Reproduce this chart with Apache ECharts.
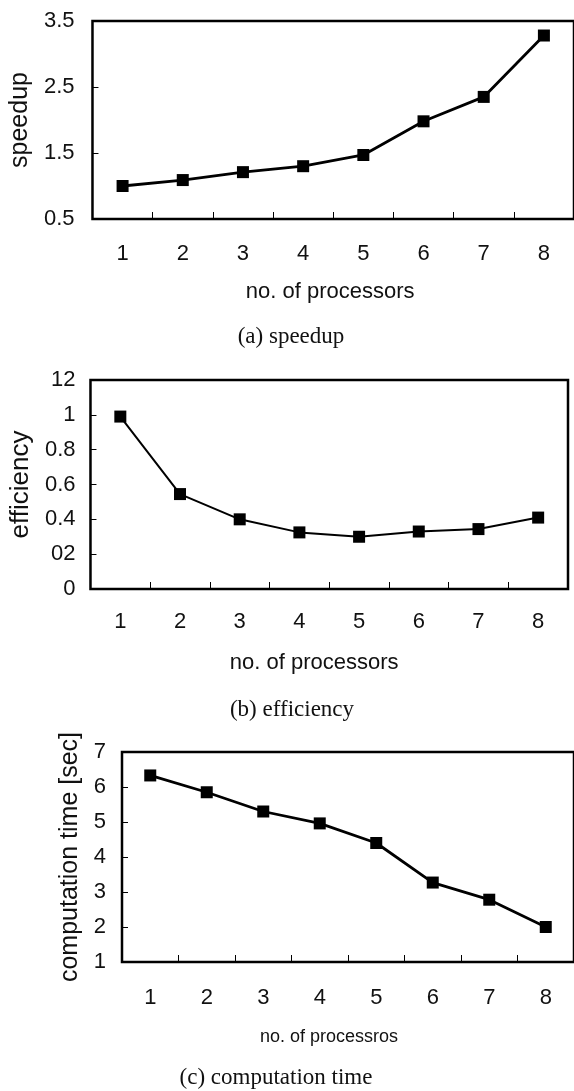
<!DOCTYPE html>
<html>
<head>
<meta charset="utf-8">
<script src="https://cdn.jsdelivr.net/npm/echarts@6/dist/echarts.min.js"></script>
<style>
html, body { margin: 0; padding: 0; background: #fff; }
#main { width: 574px; height: 1091px; }
</style>
</head>
<body>
<div id="main"></div>
<script>
// number of processors (shared x categories)
var processors = ['1', '2', '3', '4', '5', '6', '7', '8'];

// (a) speedup
var speedup = [1.0, 1.09, 1.21, 1.30, 1.47, 1.98, 2.35, 3.28];
// (b) efficiency
var efficiency = [0.99, 0.545, 0.40, 0.325, 0.30, 0.33, 0.344, 0.41];
// (c) computation time [sec]
var compTime = [6.33, 5.85, 5.30, 4.96, 4.40, 3.27, 2.78, 2.0];

// tick labels of the efficiency axis, as printed in the figure
var effTickLabels = ['0', '02', '0.4', '0.6', '0.8', '1', '12'];

var SANS = '"Liberation Sans", Arial, sans-serif';
var SERIF = '"Liberation Serif", "Times New Roman", serif';

function xAxisOf(idx, nameText, nameGap, padRight, nameSize, labelMargin) {
	return {
		gridIndex : idx,
		type : 'category',
		data : processors,
		boundaryGap : true,
		name : nameText,
		nameLocation : 'middle',
		nameGap : nameGap,
		nameTextStyle : {
			color : '#111',
			fontFamily : SANS,
			fontSize : nameSize,
			padding : [0, padRight, 0, 0]
		},
		axisLine : { show : false },
		axisTick : {
			show : true,
			inside : true,
			length : 7,
			lineStyle : { color : '#000', width : 1 }
		},
		axisLabel : {
			color : '#111',
			fontFamily : SANS,
			fontSize : 22,
			margin : labelMargin
		},
		splitLine : { show : false }
	};
}

function yAxisOf(idx, nameText, nameGap, nameSize, min, max, interval, labelMargin, fmt) {
	return {
		gridIndex : idx,
		type : 'value',
		min : min,
		max : max,
		interval : interval,
		name : nameText,
		nameLocation : 'middle',
		nameGap : nameGap,
		nameTextStyle : {
			color : '#111',
			fontFamily : SANS,
			fontSize : nameSize
		},
		axisLine : { show : false },
		axisTick : {
			show : true,
			inside : true,
			length : 6,
			lineStyle : { color : '#000', width : 1 }
		},
		axisLabel : {
			color : '#111',
			fontFamily : SANS,
			fontSize : 22,
			margin : labelMargin,
			formatter : fmt
		},
		splitLine : { show : false }
	};
}

function lineOf(idx, values, width) {
	return {
		type : 'line',
		xAxisIndex : idx,
		yAxisIndex : idx,
		data : values,
		symbol : 'rect',
		symbolSize : 12,
		lineStyle : { color : '#000', width : width },
		itemStyle : { color : '#000' },
		animation : false
	};
}

var gridStyle = { show : true, borderColor : '#000', borderWidth : 2.5, backgroundColor : 'transparent' };

var chart = echarts.init(document.getElementById('main'), null, { renderer : 'canvas' });

chart.setOption({
	backgroundColor : '#fff',
	animation : false,
	grid : [
		Object.assign({ left : 91, top : 21, width : 490, height : 198 }, gridStyle),
		Object.assign({ left : 88, top : 380, width : 480, height : 209 }, gridStyle),
		Object.assign({ left : 122, top : 752, width : 452, height : 210 }, gridStyle)
	],
	xAxis : [
		xAxisOf(0, 'no. of processors', 62, 6, 22, 24),
		xAxisOf(1, 'no. of processors', 63, 30, 22, 22),
		xAxisOf(2, 'no. of processros', 66, 38, 18, 25)
	],
	yAxis : [
		yAxisOf(0, 'speedup', 51, 25, 0.5, 3.5, 1, 18, null),
		yAxisOf(1, 'efficiency', 48, 26, 0, 1.2, 0.2, 15, function (v) {
			return effTickLabels[Math.round(v / 0.2)];
		}),
		yAxisOf(2, 'computation time [sec]', 34, 25, 1, 7, 1, 16, null)
	],
	series : [
		lineOf(0, speedup, 2.8),
		lineOf(1, efficiency, 2),
		lineOf(2, compTime, 2.8)
	],
	graphic : [
		{ type : 'text', x : 291, y : 337, style : { text : '(a) speedup', fill : '#111', font : '23px ' + SERIF, textAlign : 'center', textVerticalAlign : 'middle' } },
		{ type : 'text', x : 292, y : 710, style : { text : '(b) efficiency', fill : '#111', font : '23px ' + SERIF, textAlign : 'center', textVerticalAlign : 'middle' } },
		{ type : 'text', x : 276, y : 1078, style : { text : '(c) computation time', fill : '#111', font : '23px ' + SERIF, textAlign : 'center', textVerticalAlign : 'middle' } }
	]
});
</script>
</body>
</html>
